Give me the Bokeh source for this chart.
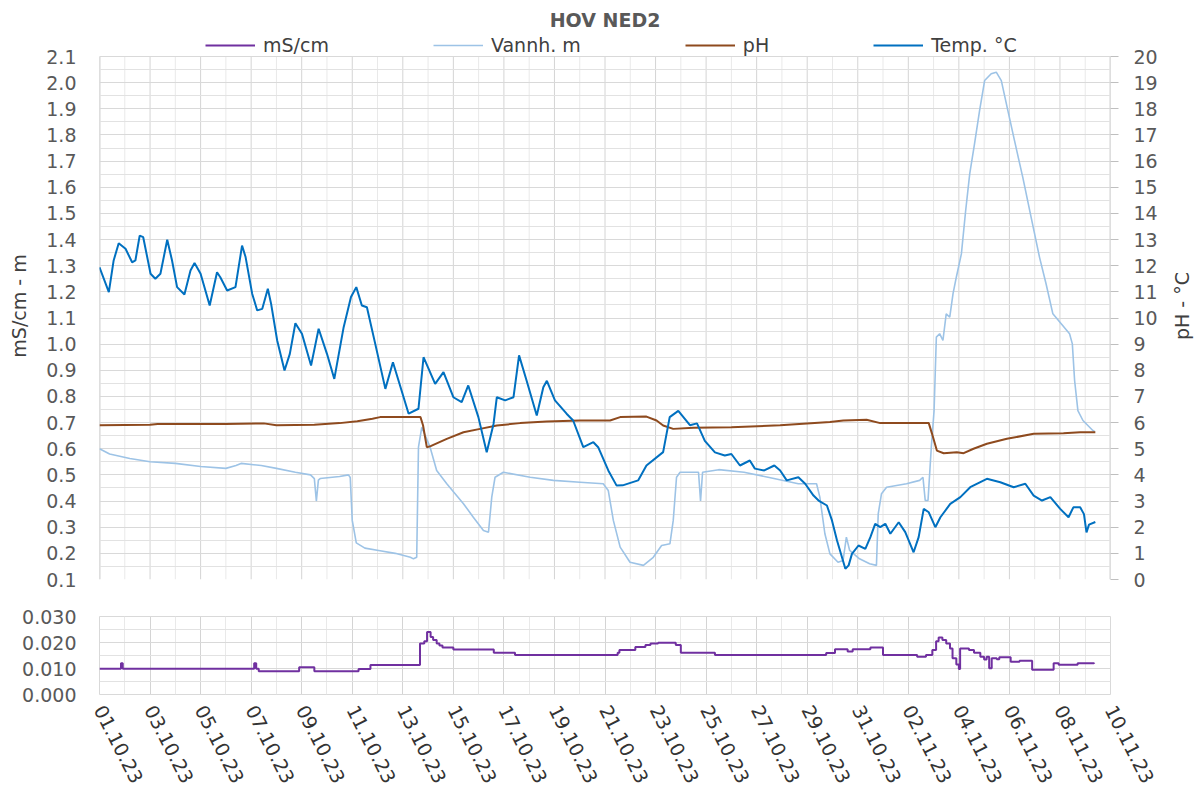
import numpy as np
from datetime import datetime
from bokeh.plotting import figure
from bokeh.layouts import column, row
from bokeh.models import (Range1d, LinearAxis, FixedTicker, DatetimeTickFormatter,
                          Legend, LegendItem, PrintfTickFormatter, Label)
from bokeh.embed import file_html
from bokeh.resources import INLINE

# ---------------- data (days since 01.10.2023 00:00) ----------------
START = "2023-10-01T00:00"

temp_day = [0.00, 0.37, 0.56, 0.76, 1.03, 1.29, 1.42, 1.59, 1.73, 2.02, 2.21, 2.41, 2.68, 2.87,
            3.07, 3.36, 3.60, 3.76, 4.00, 4.36, 4.65, 4.78, 5.05, 5.38, 5.64, 5.78, 6.04, 6.24,
            6.44, 6.66, 6.79, 7.03, 7.32, 7.53, 7.75, 8.01, 8.37, 8.67, 9.00, 9.29, 9.66, 9.95,
            10.16, 10.38, 10.58, 10.91, 11.31, 11.61, 11.83, 12.23, 12.62, 12.82, 13.28, 13.61,
            14.00, 14.33, 14.59, 14.99, 15.32, 15.59, 15.72, 16.05, 16.38, 16.60, 16.90, 17.30,
            17.56, 17.70, 18.02, 18.48, 18.74, 19.14, 19.54, 19.73, 20.13, 20.46, 20.70, 21.31,
            21.64, 22.30, 22.56, 22.83, 22.90, 23.36, 23.64, 23.95, 24.35, 24.74, 25.00, 25.34,
            25.73, 25.93, 26.30, 26.70, 26.93, 27.19, 27.65, 27.92, 28.25, 28.45, 28.78, 28.98,
            29.18, 29.51, 29.64, 29.77, 30.03, 30.30, 30.50, 30.69, 30.89, 31.09, 31.29, 31.62,
            31.88, 32.21, 32.41, 32.61, 32.81, 33.07, 33.27, 33.66, 34.06, 34.45, 35.11, 35.64,
            36.17, 36.63, 36.96, 37.29, 37.62, 38.01, 38.34, 38.53, 38.80, 38.95, 39.05, 39.15,
            39.40]
temp_c = [11.94, 10.99, 12.20, 12.86, 12.65, 12.13, 12.20, 13.15, 13.09, 11.69, 11.50, 11.69,
          12.99, 12.20, 11.18, 10.90, 11.82, 12.10, 11.69, 10.48, 11.75, 11.56, 11.05, 11.18,
          12.77, 12.33, 10.93, 10.29, 10.35, 11.12, 10.54, 9.14, 7.99, 8.63, 9.80, 9.40, 8.18,
          9.59, 8.63, 7.67, 9.65, 10.80, 11.18, 10.48, 10.41, 9.01, 7.29, 8.31, 7.61, 6.34,
          6.53, 8.50, 7.48, 7.93, 6.97, 6.78, 7.42, 6.21, 4.87, 5.95, 6.97, 6.85, 6.97, 8.57,
          7.60, 6.27, 7.35, 7.60, 6.85, 6.34, 6.08, 5.06, 5.25, 5.06, 4.17, 3.59, 3.60, 3.79,
          4.36, 4.87, 6.21, 6.40, 6.45, 5.90, 5.97, 5.30, 4.86, 4.74, 4.80, 4.36, 4.55, 4.24,
          4.17, 4.36, 4.17, 3.79, 3.91, 3.66, 3.21, 3.02, 2.83, 2.26, 1.49, 0.41, 0.54, 0.98,
          1.30, 1.17, 1.62, 2.13, 2.00, 2.13, 1.75, 2.19, 1.81, 1.04, 1.62, 2.70, 2.57, 2.00,
          2.38, 2.89, 3.15, 3.53, 3.85, 3.72, 3.53, 3.66, 3.21, 3.02, 3.15, 2.70, 2.38, 2.76,
          2.76, 2.50, 1.80, 2.10, 2.20]

ph_day = [0.0, 2.0, 2.3, 5.0, 6.5, 7.0, 8.5, 9.5, 10.2, 10.8, 11.1, 12.7, 12.8, 12.95, 13.1,
          13.74, 14.4, 15.06, 15.72, 16.64, 17.69, 19.01, 20.2, 20.6, 21.64, 22.04, 22.3, 22.7,
          23.5, 25.0, 26.93, 28.9, 29.43, 30.35, 30.89, 32.81, 32.94, 33.13, 33.4, 33.92,
          34.19, 34.58, 35.11, 35.9, 36.96, 38.14, 38.8, 39.4]
ph_val = [5.90, 5.92, 5.95, 5.95, 5.97, 5.90, 5.92, 5.98, 6.05, 6.15, 6.21, 6.21, 5.90, 5.06,
          5.10, 5.38, 5.63, 5.76, 5.89, 5.98, 6.04, 6.08, 6.08, 6.21, 6.23, 6.08, 5.89, 5.76,
          5.80, 5.82, 5.90, 6.02, 6.08, 6.11, 5.98, 5.98, 5.57, 4.93, 4.83, 4.87, 4.83, 5.00,
          5.19, 5.38, 5.57, 5.59, 5.63, 5.63]

level_day = [0.0, 0.4, 1.2, 2.0, 3.0, 4.0, 5.0, 5.4, 5.6, 6.4, 7.0, 7.75, 8.35, 8.5, 8.58, 8.66,
             8.73, 9.5, 9.85, 9.92, 10.0, 10.16, 10.5, 11.1, 11.7, 12.3, 12.42, 12.55, 12.62,
             12.75, 13.08, 13.34, 13.74, 14.4, 14.79, 15.19, 15.39, 15.52, 15.65, 15.98, 17.04,
             17.96, 19.01, 19.93, 20.13, 20.33, 20.6, 20.99, 21.52, 21.91, 22.24, 22.57, 22.7,
             22.83, 22.97, 23.7, 23.78, 23.86, 24.5, 25.5, 26.5, 27.65, 28.37, 28.5, 28.7, 28.9,
             29.22, 29.42, 29.55, 29.68, 30.07, 30.47, 30.74, 30.81, 30.94, 31.14, 31.93, 32.45,
             32.58, 32.67, 32.78, 32.91, 33.02, 33.11, 33.24, 33.37, 33.5, 33.64, 33.77, 33.9,
             34.1, 34.27, 34.43, 34.62, 34.82, 35.02, 35.28, 35.48, 35.68, 35.94, 36.2, 36.53,
             36.86, 37.19, 37.45, 37.72, 38.05, 38.38, 38.49, 38.58, 38.71, 38.91, 39.3, 39.38]
level_m = [0.600, 0.580, 0.563, 0.550, 0.544, 0.532, 0.525, 0.536, 0.544, 0.536, 0.525, 0.510,
           0.500, 0.486, 0.400, 0.480, 0.486, 0.494, 0.500, 0.490, 0.326, 0.240, 0.220, 0.210,
           0.200, 0.185, 0.179, 0.185, 0.606, 0.682, 0.606, 0.517, 0.466, 0.390, 0.338, 0.287,
           0.281, 0.415, 0.491, 0.510, 0.491, 0.479, 0.472, 0.466, 0.440, 0.326, 0.224, 0.166,
           0.154, 0.185, 0.230, 0.237, 0.326, 0.491, 0.510, 0.510, 0.400, 0.510, 0.520, 0.510,
           0.490, 0.466, 0.466, 0.415, 0.275, 0.198, 0.166, 0.173, 0.262, 0.211, 0.179, 0.160,
           0.154, 0.351, 0.428, 0.453, 0.466, 0.479, 0.491, 0.402, 0.402, 0.606, 0.746, 1.027,
           1.040, 1.014, 1.116, 1.103, 1.193, 1.256, 1.345, 1.511, 1.651, 1.766, 1.893, 2.008,
           2.034, 2.040, 2.008, 1.893, 1.779, 1.638, 1.485, 1.333, 1.231, 1.116, 1.078, 1.040,
           1.001, 0.861, 0.746, 0.708, 0.670, 0.665]

ec_day = [0.0, 0.85, 0.92, 6.12, 6.2, 6.3, 7.9, 8.5, 10.25, 10.72, 12.68, 12.85, 12.96, 13.1,
          13.2, 13.34, 13.45, 13.57, 14.0, 15.6, 16.44, 20.5, 20.57, 21.2, 21.6, 21.8, 22.1,
          22.8, 23.0, 24.35, 28.75, 29.1, 29.6, 29.8, 30.5, 31.0, 32.35, 32.7, 32.95, 33.1,
          33.2, 33.35, 33.5, 33.65, 33.75, 33.9, 34.0, 34.05, 34.4, 34.6, 34.85, 35.0, 35.1,
          35.2, 35.3, 35.5, 35.6, 36.05, 36.4, 36.9, 37.75, 37.95, 38.7, 39.35]
ec_ms = [0.0099, 0.0120, 0.0099, 0.0120, 0.0099, 0.0089, 0.0105, 0.0089, 0.0098, 0.0113,
         0.0196, 0.0205, 0.0240, 0.0221, 0.0210, 0.0196, 0.0188, 0.0181, 0.0173, 0.0161,
         0.0152, 0.0161, 0.0171, 0.0183, 0.0190, 0.0196, 0.0199, 0.0190, 0.0161, 0.0152,
         0.0160, 0.0174, 0.0165, 0.0174, 0.0181, 0.0152, 0.0145, 0.0152, 0.0171, 0.0205,
         0.0219, 0.0210, 0.0196, 0.0177, 0.0139, 0.0115, 0.0098, 0.0177, 0.0171, 0.0161,
         0.0145, 0.0135, 0.0145, 0.0101, 0.0139, 0.0136, 0.0143, 0.0126, 0.0130, 0.0095,
         0.0120, 0.0114, 0.0120, 0.0118]

legend_labels = ["mS/cm", "Vannh. m", "pH", "Temp. °C"]
title_text = "HOV NED2"
left_label = "mS/cm - m"
right_label = "pH - °C"

# ---------------- helpers ----------------
T0 = np.datetime64(START, "ms")
EPOCH = np.datetime64("1970-01-01T00:00", "ms")


def to_dt(days):
    return T0 + (np.asarray(days) * 86400000).astype("timedelta64[ms]")


def to_ms(dts):
    return [float((d - EPOCH).astype("timedelta64[ms]").astype(np.int64)) for d in dts]


major_x = to_ms(to_dt(np.arange(0, 41, 2)))
minor_x = to_ms(to_dt(np.arange(0, 41, 1)))

FONT = "DejaVu Sans"
FS = "19px"
GREY = "#595959"
DARK = "#404040"
GRID_MAJ, GRID_MIN = "#d4d4d4", "#e9e9e9"
C_EC, C_LVL, C_PH, C_TMP = "#7030A0", "#9DC3E6", "#8E4A1E", "#0070C0"

xr = Range1d(datetime(2023, 10, 1), datetime(2023, 11, 10))

# page geometry (page origin = top-left of the window)
FRAME_L, FW = 99, 1011          # frame: x 99 .. 1110
FT, FB = 56, 579                # top panel data area: y 56 .. 579
EXT = 26                        # frame extended upward for the legend row
LW, RW = 30, 36                 # narrow label strips left / right
TOP_H = FB + 12                 # 591
TOP_W = 1196 - LW - RW          # 1130
BL_TOP = FRAME_L - LW           # 69
BR_TOP = TOP_W - BL_TOP - FW    # 50
YMIN, YMAX = 0.1, 2.1
PPU = (FB - FT) / (YMAX - YMIN)  # pixels per unit on the left scale
Y_EXT = YMAX + EXT / PPU

# ---------------- top panel ----------------
top = figure(width=TOP_W, height=TOP_H, x_axis_type="datetime", x_range=xr,
             y_range=Range1d(YMIN, Y_EXT), x_axis_location=None,
             output_backend="svg", toolbar_location=None,
             min_border_left=BL_TOP, min_border_right=BR_TOP,
             min_border_top=FT - EXT, min_border_bottom=TOP_H - FB)
top.extra_y_ranges = {"r": Range1d(0, 20 + EXT / PPU * 10), "hidden": Range1d(1, 2)}
top.outline_line_color = None
top.xgrid.visible = False

yt = [round(v, 2) for v in np.arange(0.1, 2.101, 0.1)]
ym = [round(v, 3) for v in np.arange(0.15, 2.1, 0.1)]
top.ygrid.ticker = FixedTicker(ticks=yt, minor_ticks=ym)
top.ygrid.grid_line_color = "#d9d9d9"
top.ygrid.minor_grid_line_color = "#e2e2e2"

# vertical grid lines of the top panel, limited to the data area
minor_only = [d for d in np.arange(0, 41, 1) if d % 2 == 1]
major_only = list(np.arange(0, 41, 2))
top.segment(x0=to_dt(minor_only), y0=YMIN, x1=to_dt(minor_only), y1=YMAX,
            line_color=GRID_MIN, line_width=1, level="underlay")
top.segment(x0=to_dt(major_only), y0=YMIN, x1=to_dt(major_only), y1=YMAX,
            line_color=GRID_MAJ, line_width=1, level="underlay")
top.segment(x0=to_dt([0, 40]), y0=YMIN, x1=to_dt([0, 40]), y1=YMAX,
            line_color=GRID_MAJ, line_width=2, level="underlay")

la = top.yaxis[0]
la.ticker = FixedTicker(ticks=yt)
la.formatter = PrintfTickFormatter(format="%.1f")
la.axis_line_color = None
la.major_tick_out = 0
la.major_tick_in = 0
la.minor_tick_line_color = None
la.major_label_standoff = 23
la.major_label_text_font = FONT
la.major_label_text_font_size = FS
la.major_label_text_color = GREY

ra = LinearAxis(y_range_name="r", ticker=FixedTicker(ticks=list(range(0, 21))))
ra.axis_line_color = None
ra.major_tick_line_color = "#bfbfbf"
ra.major_tick_out = 8
ra.major_tick_in = 0
ra.minor_tick_line_color = None
ra.major_label_standoff = 15
ra.major_label_text_font = FONT
ra.major_label_text_font_size = FS
ra.major_label_text_color = GREY
top.add_layout(ra, "right")

# EC drawn on a hidden range of the top panel, only to give the legend its entry
r_ec_leg = top.line(x=to_dt(ec_day), y=ec_ms, line_color=C_EC, line_width=2,
                    y_range_name="hidden")
r_lvl = top.line(x=to_dt(level_day), y=level_m, line_color=C_LVL, line_width=1.6)
r_ph = top.line(x=to_dt(ph_day), y=ph_val, line_color=C_PH, line_width=2, y_range_name="r")
r_tmp = top.line(x=to_dt(temp_day), y=temp_c, line_color=C_TMP, line_width=2, y_range_name="r")

legend = Legend(items=[LegendItem(label=legend_labels[0], renderers=[r_ec_leg]),
                       LegendItem(label=legend_labels[1], renderers=[r_lvl]),
                       LegendItem(label=legend_labels[2], renderers=[r_ph]),
                       LegendItem(label=legend_labels[3], renderers=[r_tmp])],
                orientation="horizontal", location=(106, FB - FT),
                label_text_font=FONT, label_text_font_size=FS, label_text_color=DARK,
                glyph_width=50, glyph_height=20, label_height=20, label_standoff=8, spacing=104,
                padding=0, margin=0, border_line_color=None, background_fill_alpha=0)
top.add_layout(legend, "center")

top.title.text = title_text
top.title.align = "center"
top.title.offset = 6
top.title.standoff = 0
top.title.text_font = FONT
top.title.text_font_size = FS
top.title.text_font_style = "bold"
top.title.text_color = GREY


def strip(width, text, x):
    f = figure(width=width, height=TOP_H, x_range=Range1d(0, 1), y_range=Range1d(0, 1),
               x_axis_location=None, y_axis_location=None, output_backend="svg",
               toolbar_location=None, min_border=0, min_border_left=0, min_border_right=0,
               min_border_top=0, min_border_bottom=0)
    f.outline_line_color = None
    f.grid.visible = False
    f.add_layout(Label(x=x, y=TOP_H - (FT + FB) / 2, x_units="screen", y_units="screen",
                       text=text, angle=np.pi / 2, text_align="center",
                       text_baseline="middle", text_font=FONT, text_font_size=FS,
                       text_color=DARK))
    return f


lfig = strip(LW, left_label, 18)
rfig = strip(RW, right_label, 1181 - (LW + TOP_W))

# ---------------- bottom panel ----------------
BOT_TOP, BOT_FH, BOT_BOTTOM = 25, 79, 96
bot = figure(width=1196, height=BOT_TOP + BOT_FH + BOT_BOTTOM, x_axis_type="datetime",
             x_range=xr, y_range=Range1d(0, 0.03),
             output_backend="svg", toolbar_location=None,
             min_border_left=FRAME_L, min_border_right=1196 - FRAME_L - FW,
             min_border_top=BOT_TOP, min_border_bottom=BOT_BOTTOM)
bot.outline_line_color = "#d9d9d9"
bot.xgrid.ticker = FixedTicker(ticks=major_x, minor_ticks=minor_x)
bot.xgrid.grid_line_color = GRID_MAJ
bot.xgrid.minor_grid_line_color = GRID_MIN
bot.ygrid.ticker = FixedTicker(ticks=[0, 0.01, 0.02, 0.03], minor_ticks=[0.005, 0.015, 0.025])
bot.ygrid.grid_line_color = "#d9d9d9"
bot.ygrid.minor_grid_line_color = "#e2e2e2"

ba = bot.yaxis[0]
ba.ticker = FixedTicker(ticks=[0, 0.01, 0.02, 0.03])
ba.formatter = PrintfTickFormatter(format="%.3f")
ba.axis_line_color = None
ba.major_tick_out = 0
ba.major_tick_in = 0
ba.minor_tick_line_color = None
ba.major_label_standoff = 23
ba.major_label_text_font = FONT
ba.major_label_text_font_size = FS
ba.major_label_text_color = GREY

bx = bot.xaxis[0]
bx.ticker = FixedTicker(ticks=major_x)
fmt = "%d.%m.%y"
bx.formatter = DatetimeTickFormatter(milliseconds=fmt, seconds=fmt, minsec=fmt, minutes=fmt,
                                     hourmin=fmt, hours=fmt, days=fmt, months=fmt, years=fmt)
bx.major_label_orientation = -1.1
bx.axis_line_color = None
bx.major_tick_out = 0
bx.major_tick_in = 0
bx.minor_tick_line_color = None
bx.major_label_standoff = 12
bx.major_label_text_font = FONT
bx.major_label_text_font_size = FS
bx.major_label_text_color = "#333333"

bot.step(x=to_dt(ec_day), y=ec_ms, mode="after", line_color=C_EC, line_width=2)

layout = column(row(lfig, top, rfig), bot)
open("out.html", "w").write(file_html(layout, INLINE))
